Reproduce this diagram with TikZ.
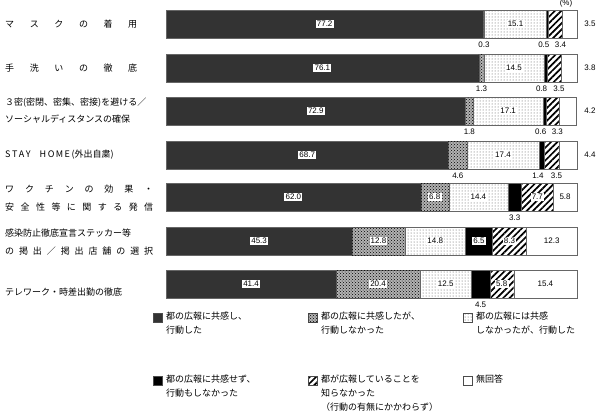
\documentclass[tikz,border=0pt]{standalone}
\usepackage{fontspec}
\setmainfont{Liberation Sans}
\newfontfamily\jp{Noto Sans CJK JP}
\usetikzlibrary{patterns,patterns.meta}
\begin{document}
\begin{tikzpicture}[x=1pt,y=-1pt,font=\fontsize{8}{9}\selectfont,
  seg/.code={\ifcase#1\or
     \tikzset{fill=black!80}\or
     \tikzset{fill=black!30,postaction={pattern=crosshatch dots,pattern color=black}}\or
     \tikzset{pattern=dots,pattern color=black!70}\or
     \tikzset{fill=black}\or
     \tikzset{pattern={Lines[angle=45,distance=4.5pt,line width=1.7pt]}}\or
     \tikzset{fill=white}\fi},
  segbox/.style={draw=black!60,line width=0.4pt},
  val/.style={fill=white,inner sep=1.2pt,font=\fontsize{8}{9}\selectfont},
  lab/.style={anchor=west,inner sep=0pt,font=\jp\fontsize{9}{10}\selectfont},
  leg/.style={anchor=north west,inner sep=0pt,align=left,font=\jp\fontsize{9}{14}\selectfont},
  legsq/.style={draw=black!70,minimum size=9pt,inner sep=0pt}]
\useasboundingbox (0,0) rectangle (600,413);
\def\xs{166}\def\sc{4.11}
\node[font=\fontsize{8}{9}\selectfont] (pct) at (566,3) {(\%)};
\foreach \top/\vals [count=\r] in {
  10/{77.2/i,0.3/b,15.1/i,0.5/L,3.4/R,3.5/r},
  54/{76.1/i,1.3/b,14.5/i,0.8/L,3.5/R,3.8/r},
  97/{72.9/i,1.8/b,17.1/i,0.6/L,3.3/R,4.2/r},
  141/{68.7/i,4.6/b,17.4/i,1.4/L,3.5/R,4.4/r},
  183/{62.0/i,6.8/i,14.4/i,3.3/b,7.7/i,5.8/n},
  227/{45.3/i,12.8/i,14.8/i,6.5/i,8.3/i,12.3/n},
  270/{41.4/i,20.4/i,12.5/i,4.5/b,5.8/i,15.4/n}}{
  \foreach \v/\c [count=\i, remember=\xe as \xa (initially 0)] in \vals {
    \pgfmathsetmacro\xe{\xa+\v}
    \pgfmathsetmacro\pa{\xs+\sc*\xa}
    \pgfmathsetmacro\pb{\xs+\sc*\xe}
    \pgfmathsetmacro\pm{(\pa+\pb)/2}
    \path[seg=\i,segbox] (\pa,\top) rectangle (\pb,\top+28);
    \coordinate (s\r-\i) at (\pm,\top+14);
    \if i\c \node[val] (v\r-\i) at (s\r-\i) {\v};\fi
    \if n\c \node[inner sep=1pt] (v\r-\i) at (s\r-\i) {\v};\fi
    \if b\c \node[inner sep=1pt] (v\r-\i) at (\pm,\top+35) {\v};\fi
    \if L\c \node[inner sep=1pt,anchor=east] (v\r-\i) at (\pm+3,\top+35) {\v};\fi
    \if R\c \node[inner sep=1pt,anchor=west] (v\r-\i) at (\pm-2,\top+35) {\v};\fi
    \if r\c \node[inner sep=1pt] (v\r-\i) at (590,\top+14) {\v};\fi
  }
}
\node[lab] (l1) at (5,24) {\makebox[132pt][l]{マ\hfill ス\hfill ク\hfill の\hfill 着\hfill 用}};
\node[lab] (l2) at (5,68) {\makebox[132pt][l]{手\hfill 洗\hfill い\hfill の\hfill 徹\hfill 底}};
\node[lab] (l3a) at (5,103) {\makebox[148pt][l]{３密(密閉、密集、密接)を避ける／}};
\node[lab] (l3b) at (5,119) {\makebox[148pt][l]{ソーシャルディスタンスの確保}};
\node[lab] (l4) at (5,155) {\makebox[148pt][l]{S\,T\,A\,Y\quad H\,O\,M\,E\,(外出自粛)}};
\node[lab] (l5a) at (5,189) {\makebox[148pt][l]{ワ\hfill ク\hfill チ\hfill ン\hfill の\hfill 効\hfill 果\hfill ・}};
\node[lab] (l5b) at (5,207) {\makebox[148pt][l]{安\hfill 全\hfill 性\hfill 等\hfill に\hfill 関\hfill す\hfill る\hfill 発\hfill 信}};
\node[lab] (l6a) at (5,233) {\makebox[148pt][l]{感染防止徹底宣言ステッカー等}};
\node[lab] (l6b) at (5,251) {\makebox[148pt][l]{の\hfill 掲\hfill 出\hfill ／\hfill 掲\hfill 出\hfill 店\hfill 舗\hfill の\hfill 選\hfill 択}};
\node[lab] (l7) at (5,292) {\makebox[148pt][l]{テレワーク・時差出勤の徹底}};
% legend
\foreach \n/\x/\y/\t in {1/158/318/{都の広報に共感し、\\行動した},
  2/313/318/{都の広報に共感したが、\\行動しなかった},
  3/468/318/{都の広報には共感\\しなかったが、行動した},
  4/158/381/{都の広報に共感せず、\\行動もしなかった},
  5/313/381/{都が広報していることを\\知らなかった\\（行動の有無にかかわらず）},
  6/468/381/{無回答}}{
  \node[legsq,seg=\n] (q\n) at (\x,\y) {};
  \node[leg] (t\n) at (\x+8,\y-6) {\t};
}
\end{tikzpicture}
\end{document}
